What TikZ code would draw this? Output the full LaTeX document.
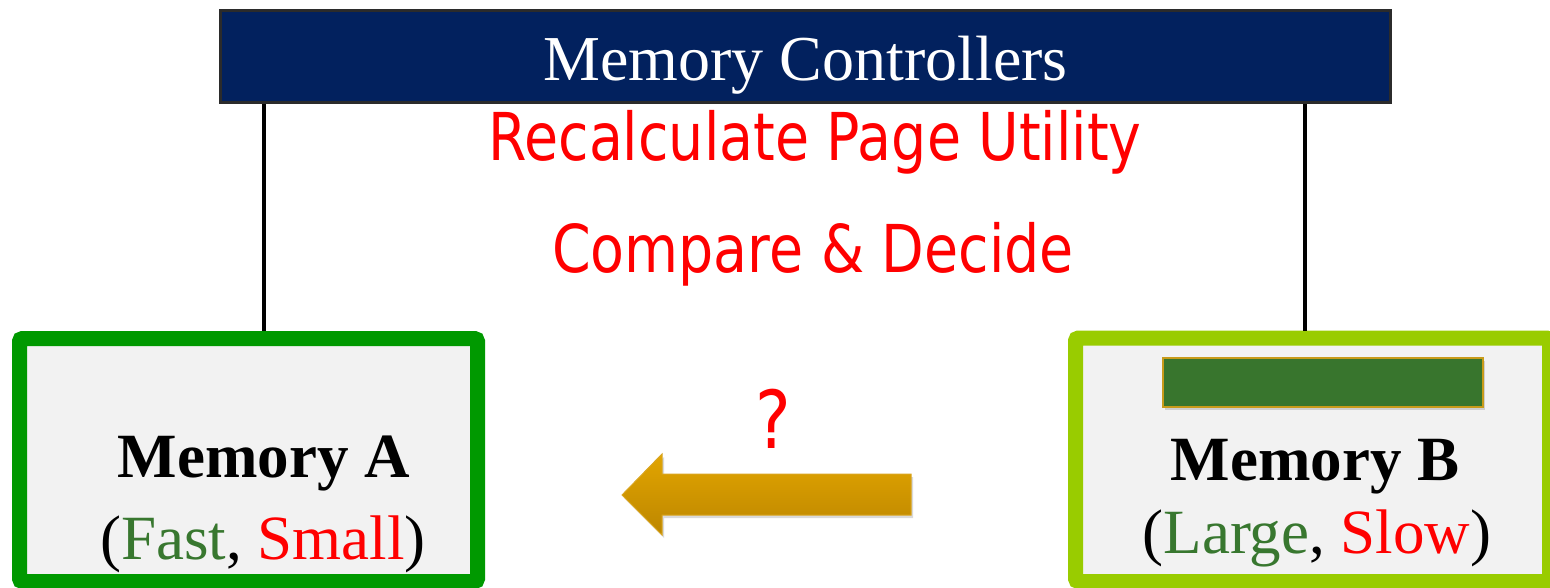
\documentclass[tikz,border=0pt]{standalone}
\usepackage{fontspec}
\setmainfont{Liberation Serif}
\newfontfamily\redsans[FakeStretch=0.84]{DejaVu Sans}
\usetikzlibrary{shadows}
\definecolor{navy}{HTML}{02215E}
\definecolor{framegray}{HTML}{2B2B2B}
\definecolor{fastgreen}{HTML}{009900}
\definecolor{limegreen}{HTML}{99CC00}
\definecolor{panel}{HTML}{F2F2F2}
\definecolor{textgreen}{HTML}{38772F}
\definecolor{bargreen}{HTML}{38752D}
\definecolor{bargold}{HTML}{C89B1A}
\definecolor{arrowtop}{HTML}{E2A500}
\definecolor{arrowbot}{HTML}{BC8600}
\definecolor{arrowedge}{HTML}{D9A520}
\definecolor{alert}{HTML}{FF0000}

\begin{document}
\begin{tikzpicture}[x=1pt,y=-1pt,
  membox/.style={line width=15pt, fill=panel, rounded corners=3pt, inner sep=0pt},
  wire/.style={line width=4pt, black},
  memtitle/.style={font=\bfseries\fontsize{63}{70}\selectfont, anchor=base, inner sep=0pt},
  memnote/.style={font=\fontsize{63}{70}\selectfont, anchor=base, inner sep=0pt},
  redline/.style={font=\redsans\fontsize{66}{72}\selectfont, text=alert, anchor=base, inner sep=0pt}]
\useasboundingbox (0,0) rectangle (1550,588);
\clip (0,0) rectangle (1550,588);

% controller bar
\node[draw=framegray, line width=3.5pt, fill=navy, minimum width=1170pt,
      minimum height=92pt, inner sep=0pt] (mc) at (805.5,56.5) {};
\node[font=\fontsize{64}{70}\selectfont, text=white, anchor=base, inner sep=0pt]
      (mctext) at (805.5,81) {Memory Controllers};

% red annotations
\node[redline] (recalc) at (815,161) {Recalculate Page Utility};
\node[redline] (decide) at (813,272) {Compare \& Decide};

% memory boxes
\node[membox, draw=fastgreen, minimum width=458pt, minimum height=243pt] (ma) at (248.5,460) {};
\node[membox, draw=limegreen, minimum width=474pt, minimum height=243.5pt] (mb) at (1312.5,459.75) {};

% wires from the controller down to each memory
\draw[wire] ([xshift=15.5pt]ma.north |- mc.south) -- ([xshift=15.5pt]ma.north);
\draw[wire] ([xshift=-7.5pt]mb.north |- mc.south) -- ([xshift=-7.5pt]mb.north);

% bar inside memory B
\fill[bargreen, draw=bargold, line width=2pt,
      drop shadow={opacity=0.3, shadow xshift=2pt, shadow yshift=-3pt}]
  (1163,358) rectangle (1483,407);

% memory labels
\node[memtitle] (matitle) at (264,477) {Memory A};
\node[memnote] (manote) at (263,559) {(\textcolor{textgreen}{Fast}, \textcolor{alert}{Small})};
\node[memtitle] (mbtitle) at (1315,480) {Memory B};
\node[memnote] (mbnote) at (1317,553) {(\textcolor{textgreen}{Large}, \textcolor{alert}{Slow})};

% migration arrow
\path[top color=arrowtop, bottom color=arrowbot, draw=arrowedge, line width=1pt,
      drop shadow={opacity=0.3, shadow xshift=2pt, shadow yshift=-3pt}]
  (622,495) -- (662,454) -- (662,474) -- (911,474) -- (911,515)
  -- (662,515) -- (662,535) -- cycle;
\node[font=\redsans\fontsize{80}{80}\selectfont, text=alert, anchor=base, inner sep=0pt]
  (query) at (773,448) {?};
\end{tikzpicture}
\end{document}
